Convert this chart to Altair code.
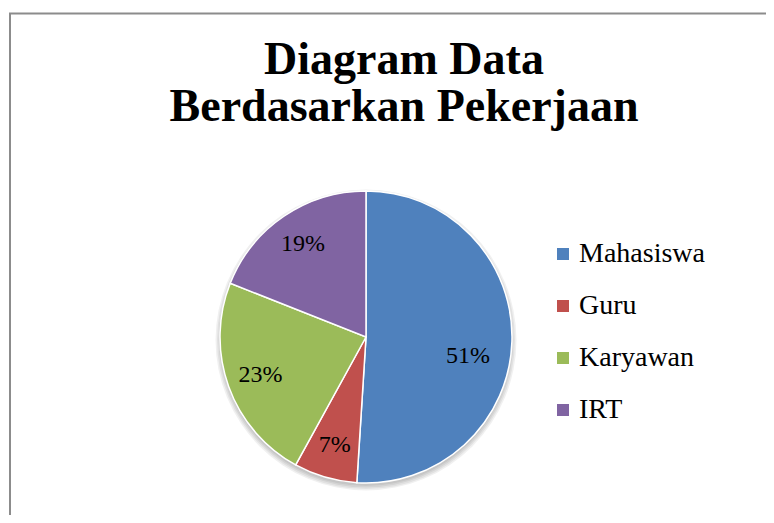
import altair as alt
import pandas as pd

categories = ["Mahasiswa", "Guru", "Karyawan", "IRT"]
percentages = [51, 7, 23, 19]
colors = ["#4F81BD", "#C0504D", "#9BBB59", "#8064A2"]
title_lines = ["Diagram Data", "Berdasarkan Pekerjaan"]

df = pd.DataFrame({"Pekerjaan": categories, "Persen": percentages, "urutan": list(range(len(categories)))})
df["label"] = df["Persen"].astype(str) + "%"

W, H = 758, 507
CX, CY = 358, 329
R = 146
FONT = "Liberation Serif"

one = alt.Chart(pd.DataFrame({"a": [0]}))

# soft drop shadow under the pie
shadows = [
    one.mark_arc(radius=R + d, theta=0, theta2=6.2832, color="#000000", opacity=0.06).encode(
        x=alt.value(CX), y=alt.value(CY + 3)
    )
    for d in (0, 1.5, 3, 4.5)
]

pie = alt.Chart(df).mark_arc(radius=R, stroke="white", strokeWidth=1.5).encode(
    theta=alt.Theta("Persen:Q", stack=True),
    order=alt.Order("urutan:Q"),
    x=alt.value(CX),
    y=alt.value(CY),
    color=alt.Color(
        "Pekerjaan:N",
        scale=alt.Scale(domain=categories, range=colors),
        legend=alt.Legend(
            orient="none", legendX=541, legendY=232, title=None,
            symbolType="square", symbolSize=144, symbolStrokeWidth=0,
            labelFont=FONT, labelFontSize=28, labelColor="black",
            labelOffset=2, rowPadding=24, padding=0, labelLimit=0,
        ),
    ),
)

lab_base = alt.Chart(df).transform_window(
    cum="sum(Persen)", sort=[alt.SortField("urutan")], frame=[None, 0]
).transform_calculate(
    mid="datum.cum - datum.Persen / 2"
)

def label_layer(flt, dx, dy):
    return lab_base.transform_filter(flt).mark_text(
        radius=112, font=FONT, fontSize=24, color="black", dx=dx, dy=dy
    ).encode(
        theta=alt.Theta("mid:Q", stack=None),
        x=alt.value(CX),
        y=alt.value(CY),
        text="label:N",
    )

labels_big = label_layer(alt.datum.Pekerjaan == "Mahasiswa", -10, 15)
labels_rest = label_layer(alt.datum.Pekerjaan != "Mahasiswa", 0, 0)

border_left = one.mark_rule(color="#8c8c8c", strokeWidth=2).encode(
    x=alt.value(2), y=alt.value(5), y2=alt.value(H)
)
border_top = one.mark_rule(color="#8c8c8c", strokeWidth=2).encode(
    x=alt.value(1), x2=alt.value(W), y=alt.value(5.5)
)
title = one.mark_text(
    text=title_lines, font=FONT, fontSize=46, fontWeight="bold",
    lineHeight=47, baseline="alphabetic", align="center", color="black",
).encode(x=alt.value(396), y=alt.value(66))

chart = alt.layer(border_left, border_top, *shadows, pie, labels_big, labels_rest, title).properties(
    width=W, height=H, autosize="none", padding=0, background="white"
).configure_view(stroke=None)

chart.save("out.html", embed_options={"renderer": "svg", "actions": False})
